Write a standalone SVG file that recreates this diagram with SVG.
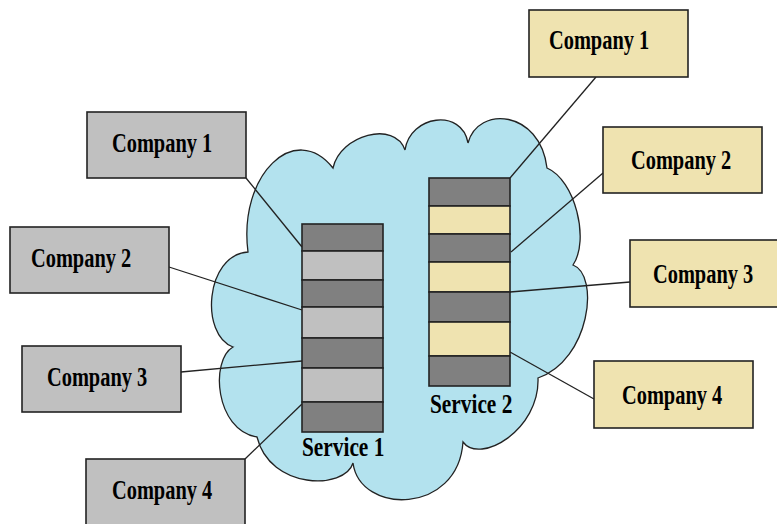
<svg xmlns="http://www.w3.org/2000/svg" width="777" height="524" viewBox="0 0 777 524">
<style>
.lbl{font-family:"Liberation Serif","Times New Roman",serif;font-weight:bold;font-size:27px;fill:#000}
.g{fill:#c0c0c0;stroke:#222;stroke-width:1.6}
.y{fill:#efe3b0;stroke:#222;stroke-width:1.6}
.d{fill:#808080;stroke:#222;stroke-width:1.6}
.l{fill:#c0c0c0;stroke:#222;stroke-width:1.6}
.c{fill:#efe3b0;stroke:#222;stroke-width:1.6}
.conn line{stroke:#222;stroke-width:1.3}
</style>
<rect width="777" height="524" fill="#fff"/>
<g id="cloud">
<path d="M248,252 C238,175 295,120 333,168 C340,135 395,120 405,150 C410,115 462,108 468,143 C478,105 540,110 547,168 C575,180 590,240 573,265 C600,275 590,360 538,378 C540,430 480,465 463,442 C458,515 360,515 353,463 C345,490 270,490 257,437 C215,430 210,360 233,347 C200,335 205,255 248,252 Z" fill="#b3e2ee" stroke="#222" stroke-width="1.3"/>
</g>
<g id="connectors" class="conn">
<line x1="246" y1="178" x2="302" y2="247"/>
<line x1="169" y1="267" x2="302" y2="310"/>
<line x1="181" y1="372" x2="302" y2="361"/>
<line x1="245" y1="459" x2="302" y2="404"/>
<line x1="510" y1="178" x2="596" y2="77"/>
<line x1="511" y1="252" x2="603" y2="173"/>
<line x1="510" y1="292" x2="630" y2="282"/>
<line x1="510" y1="352" x2="594" y2="399"/>
</g>
<g id="service1">
<rect class="d" x="302" y="224" width="81" height="27"/>
<rect class="l" x="302" y="251" width="81" height="29"/>
<rect class="d" x="302" y="280" width="81" height="27"/>
<rect class="l" x="302" y="307" width="81" height="31"/>
<rect class="d" x="302" y="338" width="81" height="30"/>
<rect class="l" x="302" y="368" width="81" height="34"/>
<rect class="d" x="302" y="402" width="81" height="30"/>
<text class="lbl" transform="translate(302,456) scale(0.79,1)">Service 1</text>
</g>
<g id="service2">
<rect class="d" x="429" y="178" width="81" height="28"/>
<rect class="c" x="429" y="206" width="81" height="28"/>
<rect class="d" x="429" y="234" width="81" height="28"/>
<rect class="c" x="429" y="262" width="81" height="30"/>
<rect class="d" x="429" y="292" width="81" height="30"/>
<rect class="c" x="429" y="322" width="81" height="34"/>
<rect class="d" x="429" y="356" width="81" height="30"/>
<text class="lbl" transform="translate(430,413) scale(0.79,1)">Service 2</text>
</g>
<g id="s1-company1"><rect class="g" x="87" y="112" width="159" height="66"/><text class="lbl" transform="translate(112,152) scale(0.755,1)">Company 1</text></g>
<g id="s1-company2"><rect class="g" x="10" y="227" width="159" height="66"/><text class="lbl" transform="translate(31,267) scale(0.755,1)">Company 2</text></g>
<g id="s1-company3"><rect class="g" x="22" y="346" width="159" height="66"/><text class="lbl" transform="translate(47,386) scale(0.755,1)">Company 3</text></g>
<g id="s1-company4"><rect class="g" x="86" y="459" width="159" height="70"/><text class="lbl" transform="translate(112,499) scale(0.755,1)">Company 4</text></g>
<g id="s2-company1"><rect class="y" x="529" y="10" width="159" height="67"/><text class="lbl" transform="translate(549,49) scale(0.755,1)">Company 1</text></g>
<g id="s2-company2"><rect class="y" x="603" y="127" width="159" height="66"/><text class="lbl" transform="translate(631,169) scale(0.755,1)">Company 2</text></g>
<g id="s2-company3"><rect class="y" x="630" y="240" width="148" height="67"/><text class="lbl" transform="translate(653,283) scale(0.755,1)">Company 3</text></g>
<g id="s2-company4"><rect class="y" x="594" y="361" width="159" height="67"/><text class="lbl" transform="translate(622,404) scale(0.755,1)">Company 4</text></g>
</svg>
